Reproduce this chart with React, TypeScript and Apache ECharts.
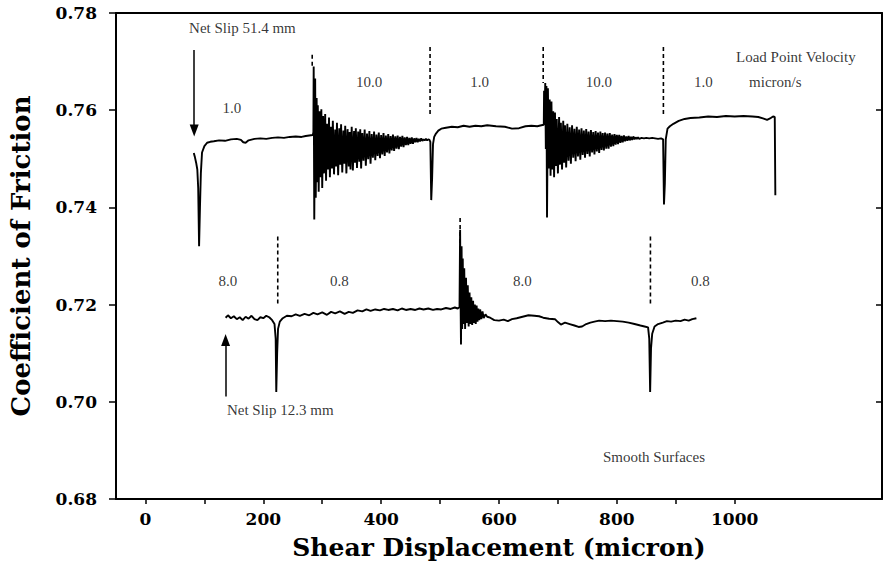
import React, { useEffect, useRef } from "react";
import * as echarts from "echarts";

// ---------- data ----------
const xTickValues = [0, 100, 200, 300, 400, 500, 600, 700, 800, 900, 1000];
const xLabelValues = [0, 200, 400, 600, 800, 1000];
const yTickValues = [0.68, 0.7, 0.72, 0.74, 0.76, 0.78];

// Upper trace: net slip 51.4 mm, velocities 1.0 / 10.0 / 1.0 / 10.0 / 1.0 micron/s
const upperTrace: [number, number][] = [
  [82, 0.7512], [84, 0.7503], [86, 0.7492], [88, 0.7478], [89.5, 0.7440], [91, 0.7320], [92.5, 0.7400],
  [94, 0.7470], [96, 0.7513], [100, 0.7526], [104.6, 0.7533], [110, 0.7535], [116, 0.7536], [125, 0.7538],
  [135, 0.7537], [145, 0.7540], [155, 0.7541], [162, 0.7539], [166, 0.7534], [170, 0.7533], [175, 0.7538],
  [185, 0.7541], [195, 0.7542], [205, 0.7541], [215, 0.7543], [225, 0.7544], [235, 0.7543], [245, 0.7545],
  [255, 0.7546], [265, 0.7545], [272, 0.7547], [278, 0.7548], [284, 0.7549],
  [285, 0.7555], [285.5, 0.7690], [286.5, 0.7375], [288, 0.7665], [289, 0.7420], [290.5, 0.7625], [291.5, 0.7452],
  [292.5, 0.7610], [294, 0.7432], [295.5, 0.7598], [297, 0.7462], [298.5, 0.7602], [300, 0.7440], [301.5, 0.7588],
  [303, 0.7470], [305, 0.7592], [306.5, 0.7455], [308, 0.7572], [310, 0.7478], [311.5, 0.7585], [313, 0.7462],
  [315, 0.7566], [316.5, 0.7480], [318, 0.7578], [320, 0.7468], [322, 0.7560], [323.5, 0.7484], [325, 0.7574],
  [327, 0.7466], [329, 0.7563], [330.5, 0.7488], [332, 0.7571], [334, 0.7472], [336, 0.7558], [337.5, 0.7490],
  [339, 0.7568], [341, 0.7470], [343, 0.7561], [345, 0.7484], [346.5, 0.7555], [348, 0.7478], [350, 0.7566],
  [352, 0.7476], [354, 0.7557], [355.5, 0.7492], [357, 0.7563], [359, 0.7481], [361, 0.7556], [363, 0.7494],
  [364.5, 0.7561], [366, 0.7480], [368, 0.7553], [370, 0.7496], [372, 0.7560], [374, 0.7486], [376, 0.7552],
  [378, 0.7499], [380, 0.7557], [382, 0.7490], [384, 0.7551], [386, 0.7502], [388, 0.7556], [390, 0.7497],
  [392, 0.7550], [394, 0.7506], [396, 0.7554], [398, 0.7501], [400, 0.7549], [402, 0.7509], [404, 0.7553],
  [406, 0.7506], [408, 0.7548], [410, 0.7513], [412, 0.7551], [414, 0.7511], [416, 0.7547], [418, 0.7517],
  [420, 0.7550], [422, 0.7516], [424, 0.7546], [426, 0.7521], [428, 0.7548], [430, 0.7520], [432, 0.7545],
  [434, 0.7525], [436, 0.7547], [438, 0.7524], [440, 0.7544], [442, 0.7528], [444, 0.7545], [446, 0.7528],
  [448, 0.7543], [450, 0.7531], [452, 0.7544], [454, 0.7531], [456, 0.7542], [458, 0.7534], [460, 0.7543],
  [462, 0.7534], [464, 0.7541], [466, 0.7536], [468, 0.7542], [470, 0.7537], [472, 0.7540], [474, 0.7538],
  [476, 0.7541], [478, 0.7538], [480, 0.7540], [482, 0.7539], [483.5, 0.7535],
  [485, 0.7415], [486.5, 0.7460], [488, 0.7530], [490, 0.7545], [493, 0.7552], [497, 0.7558], [502, 0.7562],
  [510, 0.7564], [520, 0.7566], [530, 0.7565], [540, 0.7568], [550, 0.7566], [560, 0.7568], [570, 0.7567],
  [580, 0.7569], [595, 0.7567], [610, 0.7566], [622, 0.7562], [634, 0.7563], [645, 0.7567], [655, 0.7568],
  [665, 0.7567], [672, 0.7569], [676, 0.7570],
  [676.5, 0.7640], [677.5, 0.7600], [678.5, 0.7656], [679.5, 0.7520], [680.5, 0.7650], [681.5, 0.7379],
  [683, 0.7645], [684.5, 0.7480], [686, 0.7622], [687.5, 0.7465], [689, 0.7618], [690.5, 0.7478], [692, 0.7598],
  [693.5, 0.7462], [695, 0.7595], [696.5, 0.7485], [698, 0.7582], [700, 0.7470], [702, 0.7586], [703.5, 0.7488],
  [705, 0.7574], [707, 0.7478], [709, 0.7578], [710.5, 0.7492], [712, 0.7569], [714, 0.7482], [716, 0.7572],
  [718, 0.7496], [720, 0.7565], [722, 0.7490], [724, 0.7569], [726, 0.7502], [728, 0.7562], [730, 0.7495],
  [732, 0.7566], [734, 0.7505], [736, 0.7560], [738, 0.7498], [740, 0.7563], [742, 0.7508], [744, 0.7558],
  [746, 0.7502], [748, 0.7561], [750, 0.7510], [752, 0.7556], [754, 0.7505], [756, 0.7559], [758, 0.7513],
  [760, 0.7555], [762, 0.7509], [764, 0.7557], [766, 0.7515], [768, 0.7554], [770, 0.7512], [772, 0.7556],
  [774, 0.7518], [776, 0.7553], [778, 0.7517], [780, 0.7554], [782, 0.7521], [784, 0.7552], [786, 0.7521],
  [788, 0.7553], [790, 0.7525], [792, 0.7550], [794, 0.7526], [796, 0.7551], [798, 0.7529], [800, 0.7549],
  [802, 0.7530], [804, 0.7549], [806, 0.7533], [808, 0.7547], [810, 0.7534], [812, 0.7548], [814, 0.7536],
  [816, 0.7546], [818, 0.7537], [820, 0.7547], [822, 0.7538], [824, 0.7545], [826, 0.7539], [828, 0.7546],
  [830, 0.7540], [832, 0.7544], [834, 0.7541], [836, 0.7544], [838, 0.7541], [842, 0.7543], [846, 0.7542],
  [850, 0.7543], [855, 0.7542], [860, 0.7543], [865, 0.7542], [870, 0.7541], [875, 0.7542], [878.5, 0.7540],
  [880, 0.7406], [881.5, 0.7450], [883, 0.7540], [886, 0.7562], [890, 0.7567], [896, 0.7572], [905, 0.7578],
  [915, 0.7582], [925, 0.7584], [940, 0.7585], [955, 0.7587], [970, 0.7586], [985, 0.7588], [1000, 0.7587],
  [1015, 0.7588], [1030, 0.7587], [1040, 0.7586], [1048, 0.7583], [1055, 0.7580], [1060, 0.7583],
  [1065, 0.7587], [1068, 0.7586], [1069, 0.7425],
];

// Lower trace: net slip 12.3 mm, velocities 8.0 / 0.8 / 8.0 / 0.8 micron/s
const lowerTrace: [number, number][] = [
  [136, 0.7173], [140, 0.7178], [145, 0.7172], [150, 0.7176], [155, 0.7170], [160, 0.7174], [165, 0.7168],
  [170, 0.7175], [175, 0.7171], [180, 0.7177], [185, 0.7170], [190, 0.7168], [195, 0.7174], [200, 0.7172],
  [205, 0.7177], [210, 0.7174], [215, 0.7168], [219, 0.7160], [221, 0.7130], [222, 0.7020], [223.5, 0.7100],
  [225, 0.7150], [228, 0.7165], [233, 0.7172], [240, 0.7177], [248, 0.7176], [255, 0.7180], [262, 0.7177],
  [270, 0.7181], [278, 0.7178], [285, 0.7183], [292, 0.7180], [300, 0.7184], [308, 0.7179], [315, 0.7185],
  [322, 0.7182], [330, 0.7186], [338, 0.7181], [345, 0.7185], [352, 0.7183], [360, 0.7188], [368, 0.7186],
  [375, 0.7190], [382, 0.7187], [390, 0.7190], [398, 0.7188], [405, 0.7191], [412, 0.7189], [420, 0.7191],
  [428, 0.7188], [435, 0.7192], [442, 0.7189], [450, 0.7191], [458, 0.7189], [465, 0.7192], [472, 0.7190],
  [480, 0.7192], [488, 0.7189], [495, 0.7191], [502, 0.7190], [510, 0.7193], [518, 0.7191], [525, 0.7194],
  [530, 0.7192], [533, 0.7195],
  [534, 0.7354], [535, 0.7180], [535.5, 0.7118], [536.5, 0.7320], [537.5, 0.7150], [538.5, 0.7295],
  [539.5, 0.7160], [541, 0.7275], [542.5, 0.7150], [544, 0.7255], [545.5, 0.7162], [547, 0.7240],
  [548.5, 0.7155], [550, 0.7225], [551.5, 0.7160], [553, 0.7215], [554.5, 0.7158], [556, 0.7208],
  [557.5, 0.7162], [559, 0.7200], [560.5, 0.7160], [562, 0.7198], [563.5, 0.7165], [565, 0.7192],
  [566.5, 0.7168], [568, 0.7190], [570, 0.7170], [572, 0.7186], [574, 0.7172], [577, 0.7180], [580, 0.7175],
  [585, 0.7173], [592, 0.7168], [600, 0.7167], [608, 0.7169], [615, 0.7166], [622, 0.7170], [630, 0.7172],
  [640, 0.7175], [650, 0.7178], [660, 0.7177], [668, 0.7176], [675, 0.7173], [685, 0.7171], [695, 0.7170],
  [700, 0.7164], [705, 0.7159], [712, 0.7163], [720, 0.7160], [728, 0.7157], [735, 0.7154], [741, 0.7155],
  [748, 0.7160], [755, 0.7163], [762, 0.7165], [770, 0.7167], [780, 0.7166], [790, 0.7167], [800, 0.7166],
  [810, 0.7165], [820, 0.7163], [830, 0.7160], [840, 0.7157], [847, 0.7155], [853, 0.7153], [855, 0.7130],
  [856.5, 0.7020], [858, 0.7110], [860, 0.7140], [864, 0.7155], [870, 0.7160], [878, 0.7163], [885, 0.7166],
  [892, 0.7165], [900, 0.7167], [908, 0.7166], [915, 0.7169], [922, 0.7167], [928, 0.7170], [935, 0.7172],
];

// Dashed velocity-step markers: x position, top and bottom values
const dashX = [283, 483, 675, 879, 224.5, 534, 857];
const dashTop = [0.7714, 0.773, 0.773, 0.773, 0.734, 0.7378, 0.734];
const dashBottom = [0.769, 0.759, 0.7656, 0.759, 0.7197, 0.731, 0.7198];

// Arrows: x position, tail value, head value
const arrowX = [82.7, 136];
const arrowFrom = [0.7724, 0.7011];
const arrowTo = [0.7558, 0.7127];

// Text annotations
const noteText = [
  "Net Slip 51.4 mm", "1.0", "10.0", "1.0", "10.0", "1.0", "micron/s", "Load Point Velocity",
  "8.0", "0.8", "8.0", "0.8", "Net Slip 12.3 mm", "Smooth Surfaces",
];
const noteX = [164.6, 146.8, 379.7, 567, 769.6, 946.8, 1069, 1103.8, 140, 329, 639.7, 941.8, 228.7, 863];
const noteY = [0.7769, 0.7605, 0.7658, 0.7658, 0.7658, 0.7658, 0.7658, 0.771, 0.7248, 0.7248, 0.7248, 0.7248, 0.6983, 0.6886];

const SERIF_BOLD = "'DejaVu Serif', 'Liberation Serif', serif";
const TIMES = "'Liberation Serif', 'Times New Roman', serif";

export default function App() {
  const ref = useRef<HTMLDivElement | null>(null);

  useEffect(() => {
    if (!ref.current) return;
    const chart = echarts.init(ref.current, undefined, { renderer: "svg" });

    const dashSeries = dashX.map((x, i) => ({
      type: "line",
      xAxisIndex: 0,
      yAxisIndex: 0,
      data: [[x, dashTop[i]], [x, dashBottom[i]]],
      showSymbol: false,
      symbol: "none",
      silent: true,
      lineStyle: { color: "#000", width: 1.6, type: [4, 3] },
      z: 3,
    }));

    const option: any = {
      animation: false,
      backgroundColor: "#fff",
      grid: { left: 111, right: 5, top: 13, bottom: 65, containLabel: false },
      xAxis: [
        {
          type: "value",
          min: -50,
          max: 1250,
          position: "bottom",
          axisLine: { show: true, onZero: false, lineStyle: { color: "#000", width: 2 } },
          axisTick: { show: true, customValues: xTickValues, length: 5, lineStyle: { color: "#000", width: 1.5 } },
          axisLabel: {
            show: true,
            customValues: xLabelValues,
            formatter: (v: number) => String(v),
            margin: 11,
            color: "#000",
            fontFamily: SERIF_BOLD,
            fontWeight: "bold",
            fontSize: 17,
          },
          splitLine: { show: false },
          name: "Shear Displacement (micron)",
          nameLocation: "middle",
          nameGap: 36,
          nameTextStyle: { color: "#000", fontFamily: SERIF_BOLD, fontWeight: "bold", fontSize: 25 },
        },
        {
          type: "value",
          min: -50,
          max: 1250,
          position: "top",
          axisLine: { show: true, onZero: false, lineStyle: { color: "#000", width: 2 } },
          axisTick: { show: false },
          axisLabel: { show: false },
          splitLine: { show: false },
        },
      ],
      yAxis: [
        {
          type: "value",
          min: 0.68,
          max: 0.78,
          interval: 0.02,
          position: "left",
          axisLine: { show: true, onZero: false, lineStyle: { color: "#000", width: 2 } },
          axisTick: { show: true, customValues: yTickValues, length: 7, lineStyle: { color: "#000", width: 1.5 } },
          axisLabel: {
            show: true,
            customValues: yTickValues,
            formatter: (v: number) => v.toFixed(2),
            margin: 19,
            color: "#000",
            fontFamily: SERIF_BOLD,
            fontWeight: "bold",
            fontSize: 17,
          },
          splitLine: { show: false },
          name: "Coefficient of Friction",
          nameLocation: "middle",
          nameGap: 82,
          nameTextStyle: { color: "#000", fontFamily: SERIF_BOLD, fontWeight: "bold", fontSize: 26 },
        },
        {
          type: "value",
          min: 0.68,
          max: 0.78,
          interval: 0.02,
          position: "right",
          axisLine: { show: true, onZero: false, lineStyle: { color: "#000", width: 2 } },
          axisTick: { show: true, inside: true, customValues: yTickValues, length: 6, lineStyle: { color: "#000", width: 1.5 } },
          axisLabel: { show: false },
          splitLine: { show: false },
        },
      ],
      series: [
        {
          name: "upper",
          type: "line",
          xAxisIndex: 0,
          yAxisIndex: 0,
          data: upperTrace,
          showSymbol: false,
          symbol: "none",
          lineStyle: { color: "#000", width: 1.9 },
          z: 4,
        },
        {
          name: "lower",
          type: "line",
          xAxisIndex: 0,
          yAxisIndex: 0,
          data: lowerTrace,
          showSymbol: false,
          symbol: "none",
          lineStyle: { color: "#000", width: 1.9 },
          z: 4,
        },
        ...dashSeries,
        {
          name: "arrows",
          type: "line",
          xAxisIndex: 0,
          yAxisIndex: 0,
          data: [],
          markLine: {
            silent: true,
            symbol: ["none", "triangle"],
            symbolSize: [9, 12],
            label: { show: false },
            lineStyle: { color: "#000", width: 1.5, type: "solid" },
            data: arrowX.map((x, i) => [
              { coord: [x, arrowFrom[i]] },
              { coord: [x, arrowTo[i]] },
            ]),
          },
        },
        {
          name: "notes",
          type: "scatter",
          xAxisIndex: 0,
          yAxisIndex: 0,
          symbolSize: 0,
          silent: true,
          data: noteText.map((t, i) => ({ name: t, value: [noteX[i], noteY[i]] })),
          label: {
            show: true,
            position: "inside",
            formatter: "{b}",
            color: "#000",
            fontFamily: TIMES,
            fontSize: 15,
          },
          z: 5,
        },
      ],
    };

    chart.setOption(option);
    return () => {
      chart.dispose();
    };
  }, []);

  return (
    <div
      ref={ref}
      style={{ position: "absolute", left: 0, top: 0, width: 887, height: 565, background: "#fff" }}
    />
  );
}
